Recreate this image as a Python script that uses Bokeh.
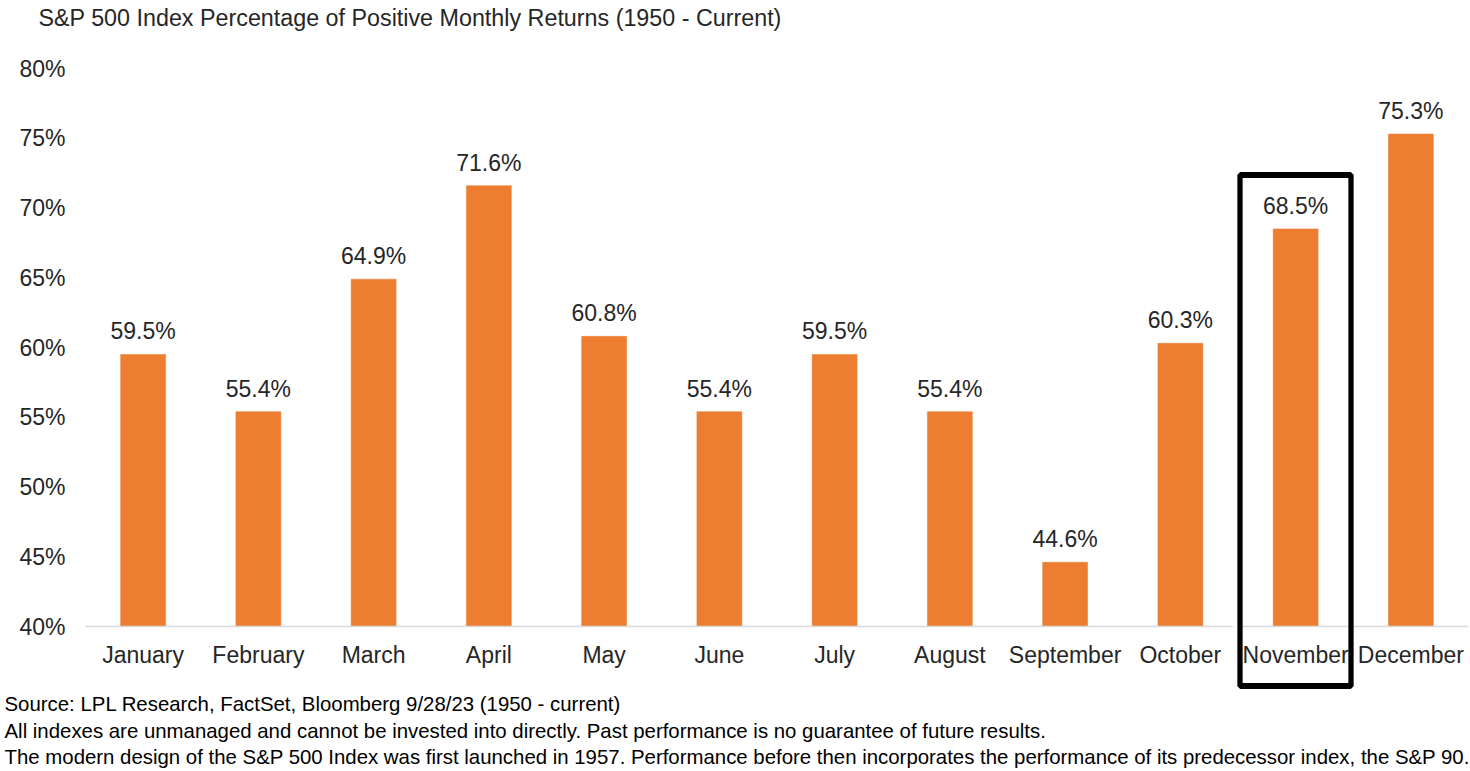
from bokeh.plotting import figure
from bokeh.models import FixedTicker, PrintfTickFormatter, Label, ColumnDataSource
from bokeh.core.properties import value
from bokeh.embed import file_html
from bokeh.resources import INLINE

# ---------------- data ----------------
months = ["January", "February", "March", "April", "May", "June", "July",
          "August", "September", "October", "November", "December"]
pct_positive = [59.5, 55.4, 64.9, 71.6, 60.8, 55.4, 59.5, 55.4, 44.6, 60.3, 68.5, 75.3]
y_ticks = [40, 45, 50, 55, 60, 65, 70, 75, 80]
highlight_month = "November"

title_text = "S&P 500 Index Percentage of Positive Monthly Returns (1950 - Current)"
footnotes = [
    "Source: LPL Research, FactSet, Bloomberg 9/28/23  (1950 - current)",
    "All indexes are unmanaged and cannot be invested into directly. Past performance is no guarantee of future results.",
    "The modern design of the S&P 500 Index was first launched in 1957. Performance before then incorporates the performance of its predecessor index, the S&P 90.",
]

# ---------------- layout ----------------
W, H = 1470, 771
ML, MR, MT, MB = 85, 2, 68, 145
FONT = "Liberation Sans"
ORANGE = "#ED7D31"
TXT = "#262626"

frame_w = W - ML - MR
frame_h = H - MT - MB
y0, y1 = 40, 80
cat_w = frame_w / len(months)
px_per_unit = frame_h / (y1 - y0)

def fx(px):  # canvas px -> synthetic x
    return (px - ML) / cat_w

def fy(py):  # canvas px (from top) -> data y
    return y1 - (py - MT) / px_per_unit

p = figure(x_range=months, y_range=(y0, y1), width=W, height=H,
           output_backend="svg", toolbar_location=None,
           min_border_left=ML, min_border_right=MR, min_border_top=MT,
           min_border_bottom=MB)
p.outline_line_color = None
p.background_fill_color = "white"
p.border_fill_color = "white"
p.xgrid.grid_line_color = None
p.ygrid.grid_line_color = None

src = ColumnDataSource(dict(
    month=months, val=pct_positive,
    lbl=[f"{v:.1f}%" for v in pct_positive]))

p.vbar(x="month", top="val", bottom=y0, width=0.39, source=src,
       fill_color=ORANGE, line_color=ORANGE, line_width=0.5)

p.text(x="month", y="val", text="lbl", source=src, text_align="center",
       text_baseline="alphabetic", y_offset=-23, text_font=value(FONT),
       text_font_size="23px", text_color=TXT)

# axes
p.yaxis.ticker = FixedTicker(ticks=y_ticks)
p.yaxis.formatter = PrintfTickFormatter(format="%d%%")
p.yaxis.axis_line_color = None
p.yaxis.major_tick_line_color = None
p.yaxis.minor_tick_line_color = None
p.yaxis.major_tick_out = 0
p.yaxis.major_tick_in = 0
p.yaxis.major_label_standoff = 20
p.yaxis.major_label_text_font = FONT
p.yaxis.major_label_text_font_size = "23px"
p.yaxis.major_label_text_color = TXT

p.xaxis.axis_line_color = "#D9D9D9"
p.xaxis.axis_line_width = 1.5
p.xaxis.major_tick_line_color = None
p.xaxis.minor_tick_line_color = None
p.xaxis.major_tick_out = 0
p.xaxis.major_tick_in = 0
p.xaxis.major_label_standoff = 15
p.xaxis.major_label_text_font = FONT
p.xaxis.major_label_text_font_size = "23px"
p.xaxis.major_label_text_color = TXT

# highlight box around November, built from thin edge labels placed in side
# panels (so they are not clipped to the plot frame)
hi = months.index(highlight_month)
box_left, box_right = fx(1239.5), fx(1350.5)
box_top, box_bot = fy(174.5), fy(685.5)
half_h = 255
half_w = 55

def edge(x, y, pad, color, lw, side):
    p.add_layout(Label(x=x, y=y, text=" ", text_font_size="1px",
                       text_align="center", text_baseline="middle",
                       padding=pad, border_line_color=color,
                       border_line_width=lw, background_fill_color=None), side)

ymid = (box_top + box_bot) / 2
xmid = (box_left + box_right) / 2
# white halo on vertical edges (interrupts the axis line like the reference)
edge(box_left - fx(ML + 3) + fx(ML), ymid, (0, half_h - 60), "white", 9, "right")
edge(box_right, ymid, (0, half_h - 60), "white", 6, "right")
# black frame
edge(box_left, ymid, (0, half_h), "black", 5, "right")
edge(box_right, ymid, (0, half_h), "black", 5, "right")
edge(xmid, box_top, (half_w, 0), "black", 5, "below")
edge(xmid, box_bot, (half_w, 0), "black", 5, "below")

# title
p.add_layout(Label(x=fx(38), y=fy(17), text=title_text, text_align="left",
                   text_baseline="middle", text_font=FONT,
                   text_font_size="23.3px", text_color=TXT), "above")

# footnotes
for txt, py in zip(footnotes, [703, 730, 756]):
    p.add_layout(Label(x=fx(4), y=fy(py), text=txt, text_align="left",
                       text_baseline="middle", text_font=FONT,
                       text_font_size="20.4px", text_color="#000000"), "below")

open("out.html", "w").write(file_html(p, INLINE))
